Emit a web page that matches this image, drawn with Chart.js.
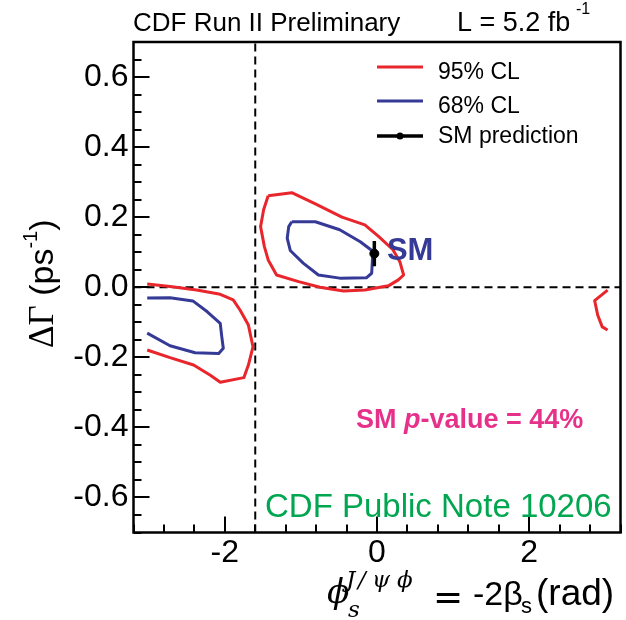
<!DOCTYPE html>
<html>
<head>
<meta charset="utf-8">
<script src="https://cdn.jsdelivr.net/npm/chart.js@4.4.1/dist/chart.umd.min.js"></script>
<style>
html, body { margin: 0; padding: 0; background: #fff; }
canvas { display: block; }
</style>
</head>
<body>
<canvas id="contourChart" width="626" height="620"></canvas>
<script>
const SANS = '"Liberation Sans", Arial, sans-serif';
const SERIF = '"Liberation Serif", "Times New Roman", serif';
const MATH = '"DejaVu Serif", serif';
const RED = '#e8262b';
const BLUE = '#353a96';

// axis ranges and tick steps
const xRange = [-3.2, 3.2];
const yRange = [-0.7, 0.7];
const xMajorStep = 2, xMinorStep = 0.4;
const yMajorStep = 0.2, yMinorStep = 0.05;

// 95% CL contours (phi_s, dGamma)
const cl95Main = [[-1.43, 0.261], [-1.12, 0.270], [-0.81, 0.238], [-0.46, 0.200], [-0.16, 0.178], [0.02, 0.145],
    [0.21, 0.107], [0.30, 0.073], [0.35, 0.035], [0.28, 0.021], [0.15, 0.004], [-0.16, -0.008], [-0.44, -0.011],
    [-0.75, 0.000], [-1.03, 0.016], [-1.32, 0.035], [-1.43, 0.078], [-1.48, 0.116], [-1.53, 0.173], [-1.49, 0.221],
    [-1.43, 0.261]];
const cl95Left = [[-3.02, 0.009], [-2.72, 0.002], [-2.37, -0.008], [-2.06, -0.020], [-1.89, -0.036], [-1.80, -0.065],
    [-1.69, -0.108], [-1.63, -0.170], [-1.69, -0.222], [-1.75, -0.258], [-2.06, -0.271], [-2.19, -0.251],
    [-2.41, -0.222], [-2.72, -0.201], [-3.02, -0.179]];
const cl95Right = [[3.03, -0.008], [2.86, -0.038], [2.90, -0.079], [2.96, -0.113], [3.03, -0.122]];

// 68% CL contours
const cl68Main = [[-1.12, 0.187], [-0.81, 0.187], [-0.49, 0.164], [-0.22, 0.130], [-0.05, 0.102], [-0.06, 0.078],
    [-0.07, 0.040], [-0.14, 0.027], [-0.49, 0.026], [-0.77, 0.035], [-0.97, 0.069], [-1.14, 0.105], [-1.18, 0.140],
    [-1.16, 0.173], [-1.12, 0.187]];
const cl68Left = [[-3.02, -0.031], [-2.72, -0.030], [-2.42, -0.039], [-2.23, -0.070], [-2.06, -0.103], [-2.04, -0.141],
    [-2.02, -0.174], [-2.08, -0.189], [-2.39, -0.187], [-2.72, -0.167], [-3.02, -0.131]];

// SM prediction
const smPoint = [-0.035, 0.096];
const smError = 0.036;
const phiRefLine = -1.6;

const legendLabels = ['95% CL', '68% CL', 'SM prediction'];
const legendColors = [RED, BLUE, '#000'];

const toXY = (pts) => pts.map(([x, y]) => ({ x: x, y: y }));

function contour(pts, color) {
    return {
        data: toXY(pts),
        showLine: true,
        borderColor: color,
        backgroundColor: color,
        borderWidth: 3,
        borderJoinStyle: 'round',
        pointRadius: 0,
        tension: 0,
        order: 2,
    };
}

function dashed(pts) {
    return {
        data: toXY(pts),
        showLine: true,
        borderColor: '#000',
        borderWidth: 2,
        borderDash: [8, 5],
        pointRadius: 0,
        order: 5,
    };
}

const datasets = [
    dashed([[xRange[0], 0], [xRange[1], 0]]),
    dashed([[phiRefLine, yRange[0]], [phiRefLine, yRange[1]]]),
    contour(cl95Main, RED),
    contour(cl95Left, RED),
    contour(cl95Right, RED),
    contour(cl68Main, BLUE),
    contour(cl68Left, BLUE),
    {
        data: toXY([[smPoint[0], smPoint[1] - smError], [smPoint[0], smPoint[1] + smError]]),
        showLine: true,
        borderColor: '#000',
        borderWidth: 3.5,
        pointRadius: 0,
        order: 1,
    },
    {
        data: toXY([smPoint]),
        pointRadius: 4.5,
        pointBackgroundColor: '#000',
        pointBorderColor: '#000',
        order: 0,
    },
];

// tick values: multiples of the step inside the range
function stepTicks(range, step) {
    const out = [];
    const first = Math.ceil(range[0] / step - 1e-9);
    const last = Math.floor(range[1] / step + 1e-9);
    for (let i = first; i <= last; i++) out.push({ value: +(i * step).toFixed(4) });
    return out;
}

// axis with inward ticks; minor ones carry no labels
function axis(pos, range, step, tickLen, size, labels, padding, weight) {
    return {
        type: 'linear',
        position: pos,
        weight: weight,
        min: range[0],
        max: range[1],
        afterBuildTicks: (s) => { s.ticks = stepTicks(range, step); },
        ticks: {
            display: labels,
            autoSkip: false,
            maxRotation: 0,
            padding: padding,
            color: '#000',
            font: { family: SANS, size: 32 },
            callback: (v) => pos === 'left' ? v.toFixed(1) : String(Math.round(v)),
        },
        grid: {
            drawOnChartArea: false,
            drawTicks: true,
            tickLength: -tickLen,
            color: '#000',
            lineWidth: 2,
        },
        border: { display: false },
        afterFit: (s) => {
            if (pos === 'left') s.width = size; else s.height = size;
        },
    };
}

const textPlugin = {
    id: 'cdfText',
    afterDatasetsDraw(chart) {
        const { ctx, chartArea: a } = chart;
        ctx.save();
        ctx.strokeStyle = '#000';
        ctx.lineWidth = 2.5;
        ctx.strokeRect(a.left, a.top, a.right - a.left, a.bottom - a.top);
        ctx.restore();
    },
    afterDraw(chart) {
        const { ctx } = chart;
        const xs = chart.scales.x, ys = chart.scales.y;
        ctx.save();
        ctx.textAlign = 'left';
        ctx.textBaseline = 'alphabetic';
        ctx.fillStyle = '#000';

        // header
        ctx.font = `26px ${SANS}`;
        ctx.fillText('CDF Run II Preliminary', 133, 31);
        ctx.font = `27px ${SANS}`;
        ctx.fillText('L = 5.2 fb', 457, 31);
        ctx.font = `16px ${SANS}`;
        ctx.fillText('-1', 576, 14);

        // legend
        const rows = [67, 101, 136];
        const bases = [79, 113, 143];
        legendLabels.forEach((label, i) => {
            ctx.strokeStyle = legendColors[i];
            ctx.lineWidth = i === 2 ? 3.5 : 3;
            ctx.beginPath();
            ctx.moveTo(377, rows[i]);
            ctx.lineTo(423, rows[i]);
            ctx.stroke();
            if (i === 2) {
                ctx.fillStyle = '#000';
                ctx.beginPath();
                ctx.arc(400, rows[i], 3.5, 0, Math.PI * 2);
                ctx.fill();
            }
            ctx.fillStyle = '#000';
            ctx.font = `23px ${SANS}`;
            ctx.fillText(label, 438, bases[i]);
        });

        // SM label next to the prediction
        ctx.fillStyle = BLUE;
        ctx.font = `bold 31px ${SANS}`;
        ctx.fillText('SM', xs.getPixelForValue(0.13), ys.getPixelForValue(0.078));

        // p-value
        ctx.fillStyle = '#e6318b';
        let x = 356;
        ctx.font = `bold 27px ${SANS}`;
        ctx.fillText('SM ', x, 428);
        x += ctx.measureText('SM ').width;
        ctx.font = `italic bold 27px ${SANS}`;
        ctx.fillText('p', x, 428);
        x += ctx.measureText('p').width;
        ctx.font = `bold 27px ${SANS}`;
        ctx.fillText('-value = 44%', x, 428);

        // note
        ctx.fillStyle = '#00a650';
        ctx.font = `33px ${SANS}`;
        ctx.fillText('CDF Public Note 10206', 265, 517);

        // x axis title
        ctx.fillStyle = '#000';
        ctx.font = `italic 33px ${MATH}`;
        ctx.fillText('\u03d5', 327, 603);
        ctx.font = `italic 23px ${MATH}`;
        ctx.fillText('J', 346, 587);
        ctx.fillText('/', 358, 587);
        ctx.fillText('\u03c8', 372, 587);
        ctx.fillText('\u03d5', 397, 587);
        ctx.fillText('s', 348, 617);
        ctx.font = `36px "DejaVu Sans"`;
        ctx.fillText('=', 433, 609);
        ctx.font = `34px ${SANS}`;
        ctx.fillText('-2\u03b2', 473, 605);
        ctx.font = `22px ${SANS}`;
        ctx.fillText('s', 521, 613);
        ctx.font = `37px ${SANS}`;
        ctx.fillText('(rad)', 536, 605);

        // y axis title, rotated
        ctx.translate(53, 348);
        ctx.rotate(-Math.PI / 2);
        let t = 0;
        ctx.font = `35px ${SERIF}`;
        ctx.fillText('\u0394\u0393', t, 0);
        t += ctx.measureText('\u0394\u0393').width;
        ctx.font = `34px ${SANS}`;
        ctx.fillText(' (ps', t, 0);
        t += ctx.measureText(' (ps').width;
        ctx.font = `20px ${SANS}`;
        ctx.fillText('-1', t, -16);
        t += ctx.measureText('-1').width;
        ctx.font = `34px ${SANS}`;
        ctx.fillText(')', t, 0);
        ctx.restore();
    },
};

const ctx = document.getElementById('contourChart').getContext('2d');
new Chart(ctx, {
    type: 'scatter',
    data: { datasets: datasets },
    options: {
        responsive: false,
        animation: false,
        events: [],
        layout: { padding: { left: 0, right: 5.5, top: 42, bottom: 0 } },
        plugins: {
            legend: { display: false },
            tooltip: { enabled: false },
        },
        scales: {
            x: axis('bottom', xRange, xMajorStep, 16, 87.5, true, 17, 1),
            xMinor: axis('bottom', xRange, xMinorStep, 8, 0, false, 0, 0),
            y: axis('left', yRange, yMajorStep, 16, 133.5, true, 21, 1),
            yMinor: axis('left', yRange, yMinorStep, 8, 0, false, 0, 0),
        },
    },
    plugins: [textPlugin],
});
</script>
</body>
</html>
